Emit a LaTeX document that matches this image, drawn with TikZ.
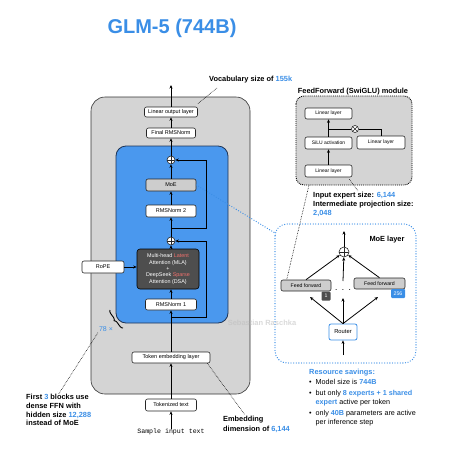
\documentclass[tikz,border=0pt]{standalone}
\usepackage{fontspec}
\setmainfont{Liberation Sans}
\setmonofont{Liberation Mono}
\usepackage{xcolor}
\usetikzlibrary{positioning,calc,arrows.meta,decorations.pathreplacing}
\definecolor{accent}{RGB}{58,142,230}
\definecolor{blockblue}{RGB}{74,152,238}
\definecolor{blockedge}{RGB}{30,52,86}
\definecolor{shellgray}{RGB}{212,212,212}
\definecolor{nodegray}{RGB}{205,205,205}
\definecolor{attgray}{RGB}{78,78,78}
\definecolor{latent}{RGB}{240,112,108}

\begin{document}
\begin{tikzpicture}[x=1pt, y=-1pt, >={Stealth[length=3.5pt,width=3pt]},
    layer/.style={draw=black!85, fill=white, rounded corners=2pt, line width=0.6pt, inner sep=0pt, font=\fontsize{5.5}{6.5}\selectfont},
    graylayer/.style={layer, fill=nodegray},
    addop/.style={circle, draw=black!85, fill=white, line width=0.6pt, inner sep=0pt, minimum size=8pt,
      path picture={\draw[line width=0.6pt] (path picture bounding box.north) -- (path picture bounding box.south) (path picture bounding box.west) -- (path picture bounding box.east);}},
    mulop/.style={circle, draw=black!85, fill=white, line width=0.6pt, inner sep=0pt, minimum size=7pt,
      path picture={\draw[line width=0.5pt] ([shift={(1.5pt,-1.5pt)}]path picture bounding box.north west) -- ([shift={(-1.5pt,1.5pt)}]path picture bounding box.south east) ([shift={(-1.5pt,-1.5pt)}]path picture bounding box.north east) -- ([shift={(1.5pt,1.5pt)}]path picture bounding box.south west);}},
    note/.style={font=\bfseries\fontsize{7.4}{9}\selectfont, align=left, inner sep=0pt},
    flow/.style={line width=0.8pt},
    dotline/.style={densely dotted, line width=0.6pt}]
    \useasboundingbox (0,0) rectangle (465,474);

    \node[font=\bfseries\fontsize{20}{24}\selectfont, text=accent] (title) at (172,28) {GLM-5 (744B)};

    \draw[rounded corners=14pt, fill=shellgray, draw=black!80, line width=0.6pt] (91,97) rectangle (250,394);
    \draw[rounded corners=10pt, fill=blockblue, draw=blockedge, line width=0.8pt] (116,146) rectangle (228,323);

    \node[layer, minimum width=53pt, minimum height=10pt] (linout) at (171,112) {Linear output layer};
    \node[layer, minimum width=49pt, minimum height=10pt] (finalnorm) at (171,133) {Final RMSNorm};
    \node[addop] (plustop) at (171,160) {};
    \node[graylayer, minimum width=50pt, minimum height=12pt] (moe) at (171,185) {MoE};
    \node[layer, minimum width=50pt, minimum height=12pt] (norm2) at (171,211) {RMSNorm 2};
    \node[addop] (plusmid) at (171,241) {};
    \node[layer, fill=attgray, draw=black, text=white, minimum width=62pt, minimum height=40pt, rounded corners=3pt, align=center,
      font=\fontsize{5.4}{6.4}\selectfont] (attn) at (168,269)
      {Multi-head \textcolor{latent}{Latent}\\Attention (MLA)\\+\\DeepSeek \textcolor{latent}{Sparse}\\Attention (DSA)};
    \node[layer, minimum width=51pt, minimum height=11pt] (norm1) at (171,304.5) {RMSNorm 1};
    \node[layer, minimum width=42pt, minimum height=12pt] (rope) at (103,267) {RoPE};
    \node[layer, minimum width=78pt, minimum height=11pt] (embed) at (171,357.5) {Token embedding layer};
    \node[layer, minimum width=51pt, minimum height=12pt] (tokens) at (171,405) {Tokenized text};
    \node[font=\ttfamily\fontsize{6.6}{8}\selectfont, inner sep=0pt] (sample) at (171,432) {Sample input text};

    \coordinate (skipa) at (171,317);
    \coordinate (skipb) at (171,228);
    \coordinate (vocabout) at (171,85);

    \draw[flow, ->] (sample) -- (tokens);
    \draw[flow, ->] (tokens) -- (embed);
    \draw[flow, ->] (embed) -- (norm1);
    \draw[flow, ->] (norm1) -- (attn.south -| norm1);
    \draw[flow, ->] (attn.north -| plusmid) -- (plusmid);
    \draw[flow, ->] (plusmid) -- (norm2);
    \draw[flow, ->] (norm2) -- (moe);
    \draw[flow, ->] (moe) -- (plustop);
    \draw[flow, ->] (plustop) -- (finalnorm);
    \draw[flow, ->] (finalnorm) -- (linout);
    \draw[flow, ->] (linout) -- (vocabout);
    \draw[flow, ->] (skipa) -- (206,317) -- (206,241) -- (plusmid);
    \draw[flow, ->] (skipb) -- (206,228) -- (206,160) -- (plustop);
    \draw[flow, ->] (rope) -- (rope -| attn.west);

    \draw[decorate, decoration={brace, amplitude=3pt}, line width=0.9pt] (123,328) -- (110,310);
    \node[text=accent, font=\fontsize{7}{8}\selectfont, inner sep=1pt] (repeat) at (106,329) {78 ×};
    \node[note, anchor=north west, font=\bfseries\fontsize{7.4}{8.8}\selectfont] (dense) at (26,394)
      {First \textcolor{accent}{3} blocks use\\dense FFN with\\hidden size \textcolor{accent}{12,288}\\instead of MoE};
    \draw[dotline] (repeat.south west) -- (dense.north);

    \node[note, anchor=south west] (vocab) at (209,83) {Vocabulary size of \textcolor{accent}{155k}};
    \draw[dotline] ($(vocab.south west)+(8,5)$) -- ($(linout.north east)+(0,-3)$);

    \node[note, anchor=north west, font=\bfseries\fontsize{7.4}{9.6}\selectfont] (embdim) at (223,416)
      {Embedding\\dimension of \textcolor{accent}{6,144}};
    \draw[dotline] ($(embed.south east)+(-3,0)$) -- ($(embdim.north west)+(22,-1)$);

    \node[text=black!25, opacity=0.6, font=\bfseries\fontsize{7.5}{9}\selectfont] (mark) at (262,323) {Sebastian Raschka};

    \node[note] (ffhead) at (353,92) {FeedForward (SwiGLU) module};
    \draw[densely dotted, fill=shellgray, rounded corners=8pt, line width=0.9pt] (296,96) rectangle (412,185);
    \node[layer, minimum width=47pt, minimum height=11pt, font=\fontsize{5}{6}\selectfont] (lina) at (328.5,113.5) {Linear layer};
    \node[layer, minimum width=47pt, minimum height=12pt, font=\fontsize{5}{6}\selectfont] (silu) at (328.5,143) {SiLU activation};
    \node[layer, minimum width=48pt, minimum height=13pt, font=\fontsize{5}{6}\selectfont] (linb) at (381,142.5) {Linear layer};
    \node[layer, minimum width=47pt, minimum height=12pt, font=\fontsize{5}{6}\selectfont] (linc) at (328.5,171) {Linear layer};
    \node[mulop] (mult) at (355,129) {};
    \coordinate (mixl) at (silu.north |- mult);
    \draw[flow, ->] (linc) -- (silu);
    \draw[flow] (silu.north) -- (mixl) -- (mult);
    \draw[flow] (mult) -- (mult -| linb.north) -- (linb.north);
    \draw[flow, ->] (mixl) -- (lina.south);

    \node[note, anchor=north west, font=\bfseries\fontsize{7.4}{9}\selectfont] (ffsize) at (313,192)
      {Input expert size: \textcolor{accent}{6,144}\\Intermediate projection size:\\\textcolor{accent}{2,048}};
    \draw[dotline] ($(linc.south east)+(-3,2)$) -- ($(ffsize.north west)+(45,-1)$);

    \draw[line width=1.3pt, draw=accent, dash pattern=on 0pt off 2.6pt, line cap=round, rounded corners=12pt] (275,224) rectangle (416,363);
    \node[note] (moehead) at (387,240) {MoE layer};
    \node[addop, minimum size=10pt] (moeplus) at (344,252) {};
    \coordinate (moeout) at (344,231);
    \node[graylayer, minimum width=50pt, minimum height=11pt, font=\fontsize{5.2}{6}\selectfont] (ffa) at (306,285.5) {Feed forward};
    \node[graylayer, minimum width=51pt, minimum height=11pt, font=\fontsize{5.2}{6}\selectfont] (ffb) at (379.5,283.5) {Feed forward};
    \node[fill=attgray, text=white, rounded corners=1pt, inner sep=0pt, minimum width=9pt, minimum height=9pt, font=\fontsize{5.2}{6}\selectfont] (idxa) at (326,296) {1};
    \node[fill=accent, text=white, rounded corners=1pt, inner sep=0pt, minimum width=14pt, minimum height=9pt, font=\fontsize{5.2}{6}\selectfont] (idxb) at (398,293.5) {256};
    \node[inner sep=0pt, font=\bfseries\fontsize{10}{10}\selectfont] (dots) at (343,290) {$\cdot\,\cdot\,\cdot$};
    \node[layer, draw=accent, line width=0.8pt, minimum width=28pt, minimum height=16pt, font=\fontsize{5.8}{6.5}\selectfont] (router) at (343,332) {Router};
    \coordinate (routerin) at (343,355);

    \draw[flow, ->] (moeplus) -- (moeout);
    \draw[flow, ->] (ffa.north) -- (moeplus);
    \draw[flow, ->] ($(dots)+(0,-9)$) -- (moeplus);
    \draw[flow, ->] (ffb.north) -- (moeplus);
    \draw[flow, ->] (router.north) -- (310,297);
    \draw[flow, ->] (router.north) -- ($(dots)+(0,8)$);
    \draw[flow, ->] (router.north) -- (378,297);
    \draw[flow, ->] (routerin) -- (router);

    \draw[line width=1.3pt, draw=accent, dash pattern=on 0pt off 2.6pt, line cap=round] (moe.east) -- (275,233);
    \draw[dotline] (309,185) -- ($(ffa.north west)+(6,0)$);

    \node[note, text=accent, anchor=west] (saving) at (309,373) {Resource savings:};
    \node[anchor=north west, inner sep=0pt, font=\fontsize{7.2}{9.3}\selectfont] (savelist) at (309,378)
      {\begin{tabular}{@{}l@{\hspace{4pt}}l@{}}
        • & Model size is \textcolor{accent}{\textbf{744B}}\\[1.2pt]
        • & but only \textcolor{accent}{\textbf{8 experts + 1 shared}}\\
          & \textcolor{accent}{\textbf{expert}} active per token\\[1.2pt]
        • & only \textcolor{accent}{\textbf{40B}} parameters are active\\
          & per inference step
      \end{tabular}};
  \end{tikzpicture}
\end{document}
